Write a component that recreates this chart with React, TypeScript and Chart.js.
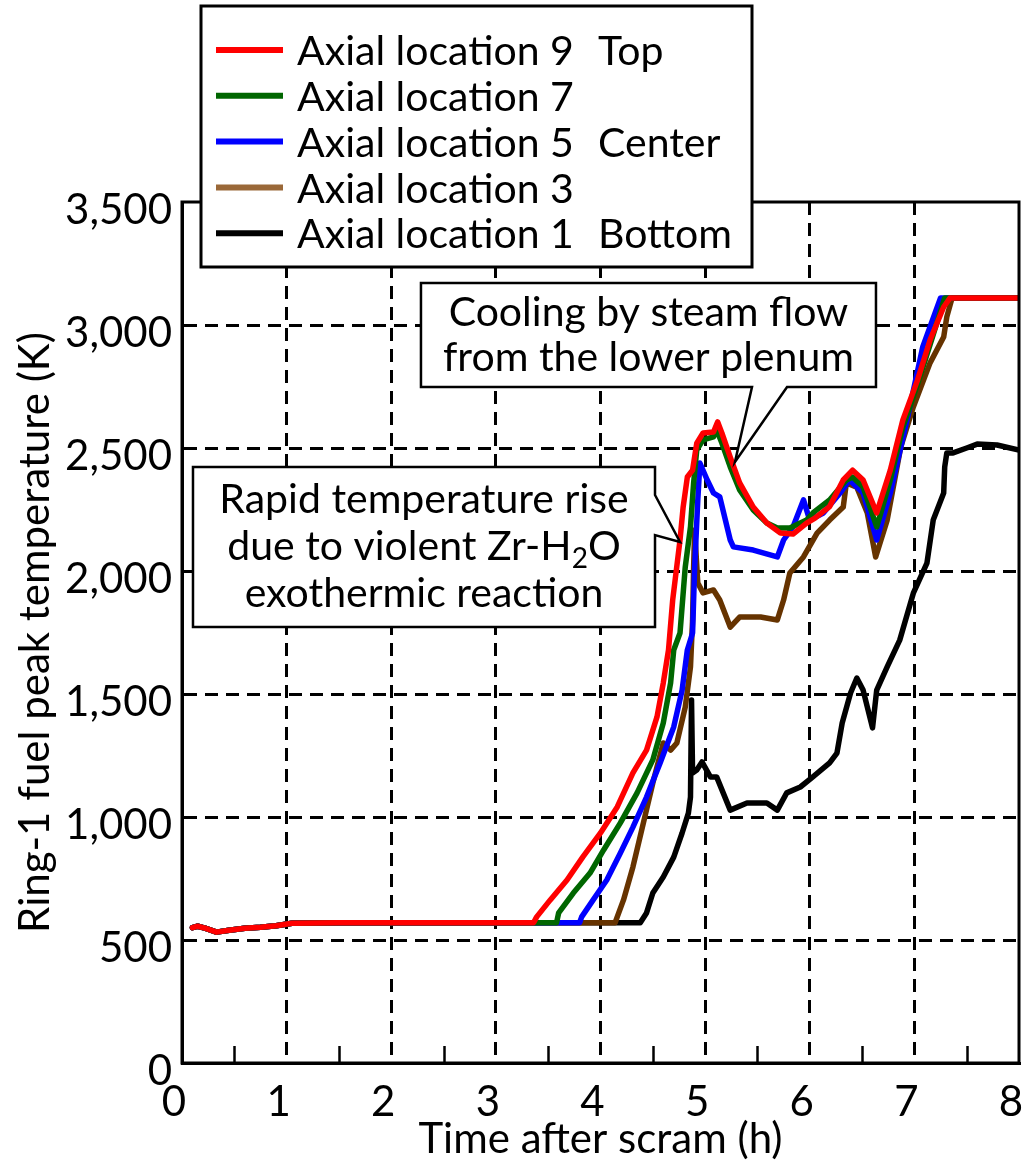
import React, { useEffect, useRef } from 'react';
import { Chart, registerables } from 'chart.js';

Chart.register(...registerables);

const FONT = 'Lato, "Open Sans", sans-serif';

// ---------- data (time after scram in h, temperature in K) ----------
const loc9T = [0.1, 0.15, 0.22, 0.33, 0.45, 0.6, 0.75, 0.9, 1.05, 1.5, 2.0, 2.5, 3.0, 3.36, 3.39, 3.52, 3.68, 3.83, 4.0, 4.16, 4.31, 4.44, 4.54, 4.6, 4.65, 4.69, 4.76, 4.79, 4.83, 4.88, 4.92, 4.98, 5.08, 5.12, 5.16, 5.24, 5.33, 5.46, 5.59, 5.72, 5.84, 5.97, 6.05, 6.19, 6.32, 6.41, 6.51, 6.64, 6.77, 6.89, 7.03, 7.15, 7.28, 7.34, 8.0];
const loc9K = [550, 556, 548, 532, 540, 548, 552, 558, 568, 570, 570, 570, 570, 570, 594, 663, 744, 837, 935, 1041, 1179, 1272, 1407, 1545, 1679, 1882, 2126, 2260, 2382, 2410, 2520, 2561, 2565, 2606, 2561, 2463, 2358, 2260, 2195, 2154, 2150, 2195, 2215, 2262, 2370, 2410, 2370, 2236, 2410, 2614, 2776, 2939, 3073, 3110, 3110];

const loc7T = [0.1, 0.15, 0.22, 0.33, 0.45, 0.6, 0.75, 0.9, 1.05, 1.5, 2.0, 2.5, 3.0, 3.58, 3.6, 3.74, 3.9, 4.03, 4.19, 4.35, 4.5, 4.6, 4.67, 4.7, 4.76, 4.81, 4.86, 4.89, 4.92, 4.98, 5.08, 5.11, 5.16, 5.24, 5.33, 5.46, 5.59, 5.69, 5.81, 5.97, 6.03, 6.19, 6.35, 6.41, 6.51, 6.64, 6.77, 6.89, 7.03, 7.15, 7.29, 8.0];
const loc7K = [550, 556, 548, 532, 540, 548, 552, 558, 568, 570, 570, 570, 570, 570, 610, 691, 772, 866, 976, 1098, 1232, 1382, 1545, 1679, 1748, 2016, 2179, 2358, 2492, 2533, 2545, 2573, 2520, 2423, 2329, 2248, 2195, 2175, 2175, 2207, 2236, 2289, 2370, 2382, 2341, 2179, 2370, 2585, 2760, 2920, 3110, 3110];

const loc5T = [0.1, 0.15, 0.22, 0.33, 0.45, 0.6, 0.75, 0.9, 1.05, 1.5, 2.0, 2.5, 3.0, 3.8, 3.82, 3.93, 4.06, 4.19, 4.31, 4.44, 4.57, 4.7, 4.78, 4.83, 4.88, 4.9, 4.93, 4.95, 5.02, 5.08, 5.14, 5.24, 5.27, 5.46, 5.69, 5.75, 5.84, 5.94, 6.0, 6.13, 6.29, 6.38, 6.51, 6.64, 6.77, 6.93, 7.08, 7.25, 8.0];
const loc5K = [550, 556, 548, 532, 540, 548, 552, 558, 568, 570, 570, 570, 570, 570, 594, 663, 744, 854, 959, 1081, 1220, 1366, 1516, 1679, 1748, 2016, 2289, 2439, 2370, 2317, 2301, 2126, 2098, 2085, 2057, 2126, 2179, 2289, 2207, 2236, 2317, 2370, 2317, 2126, 2317, 2614, 2911, 3110, 3110];

const loc3T = [0.1, 0.15, 0.22, 0.33, 0.45, 0.6, 0.75, 0.9, 1.05, 1.5, 2.0, 2.5, 3.0, 4.14, 4.16, 4.22, 4.31, 4.41, 4.5, 4.6, 4.67, 4.73, 4.81, 4.86, 4.88, 4.89, 4.9, 4.93, 4.98, 5.08, 5.14, 5.24, 5.33, 5.53, 5.69, 5.75, 5.81, 5.94, 6.07, 6.19, 6.32, 6.35, 6.45, 6.55, 6.63, 6.74, 6.87, 6.99, 7.15, 7.28, 7.31, 7.36, 8.0];
const loc3K = [550, 556, 548, 532, 540, 548, 552, 558, 568, 570, 570, 570, 570, 570, 594, 663, 797, 976, 1138, 1301, 1272, 1301, 1447, 1610, 1800, 2016, 2167, 1951, 1911, 1923, 1882, 1772, 1813, 1813, 1801, 1882, 1992, 2057, 2154, 2207, 2260, 2358, 2341, 2236, 2057, 2207, 2504, 2667, 2846, 2951, 3033, 3110, 3110];

const loc1T = [0.1, 0.15, 0.22, 0.33, 0.45, 0.6, 0.75, 0.9, 1.05, 1.5, 2.0, 2.5, 3.0, 4.38, 4.44, 4.5, 4.6, 4.7, 4.78, 4.84, 4.86, 4.87, 4.88, 4.92, 4.97, 5.05, 5.11, 5.24, 5.4, 5.59, 5.69, 5.78, 5.91, 6.03, 6.19, 6.26, 6.31, 6.39, 6.45, 6.51, 6.6, 6.64, 6.74, 6.86, 6.99, 7.12, 7.18, 7.28, 7.29, 7.31, 7.37, 7.5, 7.6, 7.79, 8.0];
const loc1K = [550, 556, 548, 532, 540, 548, 552, 558, 568, 570, 570, 570, 570, 570, 610, 691, 756, 837, 935, 1016, 1081, 1476, 1179, 1191, 1224, 1163, 1163, 1028, 1057, 1057, 1028, 1098, 1122, 1163, 1220, 1260, 1382, 1504, 1565, 1516, 1362, 1516, 1610, 1719, 1910, 2032, 2207, 2317, 2423, 2480, 2480, 2500, 2516, 2512, 2492];

const seriesNames = ['Axial location 9', 'Axial location 7', 'Axial location 5', 'Axial location 3', 'Axial location 1'];
const seriesPositions = ['Top', '', 'Center', '', 'Bottom'];
const seriesColors = ['#ff0000', '#006600', '#0000ff', '#663300', '#000000'];
const legendColors = ['#ff0000', '#006600', '#0000ff', '#9a6838', '#000000'];
const seriesT = [loc9T, loc7T, loc5T, loc3T, loc1T];
const seriesK = [loc9K, loc7K, loc5K, loc3K, loc1K];

const xMin = 0;
const xMax = 8;
const xLabelTicks = [0, 1, 2, 3, 4, 5, 6, 7, 8];
const xMinorTicks = [0.5, 1.5, 2.5, 3.5, 4.5, 5.5, 6.5, 7.5];
const yMin = 0;
const yMax = 3500;
const yStep = 500;

const xTitle = 'Time after scram (h)';
const yTitle = 'Ring-1 fuel peak temperature (K)';

// callouts in data coordinates
const callout1Lines = ['Cooling by steam flow', 'from the lower plenum'];
const callout1Box = { x0: 2.284, x1: 6.633, y0: 3171, y1: 2748 };
const callout1Notch = { a: 5.448, b: 5.783 };
const callout1Tip = { x: 5.285, y: 2443 };

const callout2Lines = ['Rapid temperature rise', 'due to violent Zr-H|2|O', 'exothermic reaction'];
const callout2Box = { x0: 0.105, x1: 4.521, y0: 2423, y1: 1772 };
const callout2Notch = { a: 2309, b: 2146 };
const callout2Tip = { x: 4.76, y: 2118 };

function drawRichLine(ctx: CanvasRenderingContext2D, text: string, cx: number, cy: number, size: number) {
  const parts = text.split('|');
  const fonts = parts.map((_, i) => (i % 2 === 1 ? `${Math.round(size * 0.68)}px ${FONT}` : `${size}px ${FONT}`));
  let total = 0;
  const widths = parts.map((p, i) => {
    ctx.font = fonts[i];
    const w = ctx.measureText(p).width;
    total += w;
    return w;
  });
  let x = cx - total / 2;
  parts.forEach((p, i) => {
    ctx.font = fonts[i];
    ctx.fillText(p, x, cy + (i % 2 === 1 ? size * 0.3 : 0));
    x += widths[i];
  });
}

const framePlugin = {
  id: 'frameAndMarks',
  afterDatasetsDraw(chart: any) {
    const { ctx, chartArea, scales } = chart;
    ctx.save();
    // minor x tick marks pointing inward
    ctx.strokeStyle = '#000';
    ctx.lineWidth = 2.5;
    xMinorTicks.forEach((v) => {
      const px = Math.round(scales.x.getPixelForValue(v)) + 0.5;
      ctx.beginPath();
      ctx.moveTo(px, chartArea.bottom);
      ctx.lineTo(px, chartArea.bottom - 17);
      ctx.stroke();
    });
    ctx.lineWidth = 3;
    ctx.strokeRect(chartArea.left, chartArea.top, chartArea.right - chartArea.left, chartArea.bottom - chartArea.top);
    ctx.restore();
  },
  afterDraw(chart: any) {
    const { ctx, scales } = chart;
    const X = (v: number) => scales.x.getPixelForValue(v);
    const Y = (v: number) => scales.y.getPixelForValue(v);
    ctx.save();
    ctx.lineJoin = 'miter';
    // callout 1 (pointer on bottom edge)
    {
      const l = X(callout1Box.x0), r = X(callout1Box.x1), t = Y(callout1Box.y0), b = Y(callout1Box.y1);
      ctx.beginPath();
      ctx.moveTo(l, t);
      ctx.lineTo(r, t);
      ctx.lineTo(r, b);
      ctx.lineTo(X(callout1Notch.b), b);
      ctx.lineTo(X(callout1Tip.x), Y(callout1Tip.y));
      ctx.lineTo(X(callout1Notch.a), b);
      ctx.lineTo(l, b);
      ctx.closePath();
      ctx.fillStyle = '#fff';
      ctx.fill();
      ctx.lineWidth = 2.5;
      ctx.strokeStyle = '#000';
      ctx.stroke();
      ctx.fillStyle = '#000';
      ctx.textBaseline = 'middle';
      ctx.textAlign = 'left';
      const cx = (l + r) / 2, cy = (t + b) / 2;
      callout1Lines.forEach((s, i) => drawRichLine(ctx, s, cx, cy + (i - 0.5) * 45, 41));
    }
    // callout 2 (pointer on right edge)
    {
      const l = X(callout2Box.x0), r = X(callout2Box.x1), t = Y(callout2Box.y0), b = Y(callout2Box.y1);
      ctx.beginPath();
      ctx.moveTo(l, t);
      ctx.lineTo(r, t);
      ctx.lineTo(r, Y(callout2Notch.a));
      ctx.lineTo(X(callout2Tip.x), Y(callout2Tip.y));
      ctx.lineTo(r, Y(callout2Notch.b));
      ctx.lineTo(r, b);
      ctx.lineTo(l, b);
      ctx.closePath();
      ctx.fillStyle = '#fff';
      ctx.fill();
      ctx.lineWidth = 2.5;
      ctx.strokeStyle = '#000';
      ctx.stroke();
      ctx.fillStyle = '#000';
      ctx.textBaseline = 'middle';
      ctx.textAlign = 'left';
      const cx = (l + r) / 2, cy = (t + b) / 2;
      callout2Lines.forEach((s, i) => drawRichLine(ctx, s, cx, cy + (i - 1) * 47, 41));
    }
    // legend box
    {
      const left = 201, top = 6, w = 551, h = 261;
      ctx.fillStyle = '#fff';
      ctx.fillRect(left, top, w, h);
      ctx.lineWidth = 3;
      ctx.strokeStyle = '#000';
      ctx.strokeRect(left, top, w, h);
      ctx.textBaseline = 'middle';
      ctx.textAlign = 'left';
      ctx.font = `41px ${FONT}`;
      seriesNames.forEach((name, i) => {
        const y = 50 + i * 45.8;
        ctx.strokeStyle = legendColors[i];
        ctx.lineWidth = 6;
        ctx.beginPath();
        ctx.moveTo(216, y);
        ctx.lineTo(283, y);
        ctx.stroke();
        ctx.fillStyle = '#000';
        ctx.fillText(name, 297, y + 2);
        if (seriesPositions[i]) ctx.fillText(seriesPositions[i], 598, y + 2);
      });
    }
    ctx.restore();
  },
};

export default function App() {
  const ref = useRef<HTMLCanvasElement | null>(null);
  useEffect(() => {
    if (!ref.current) return;
    const datasets = seriesNames.map((name, i) => ({
      label: seriesPositions[i] ? `${name}  ${seriesPositions[i]}` : name,
      data: seriesT[i].map((t, j) => ({ x: t, y: seriesK[i][j] })),
      borderColor: seriesColors[i],
      backgroundColor: seriesColors[i],
      borderWidth: 5.5,
      pointRadius: 0,
      tension: 0,
      fill: false,
      borderJoinStyle: 'round' as const,
      borderCapStyle: 'round' as const,
    }));
    const chart = new Chart(ref.current, {
      type: 'line',
      data: { datasets },
      plugins: [framePlugin],
      options: {
        animation: false,
        responsive: false,
        devicePixelRatio: 1,
        layout: { padding: { top: 202, right: 4, left: 0, bottom: 0 } },
        plugins: { legend: { display: false }, tooltip: { enabled: false } },
        scales: {
          x: {
            type: 'linear',
            min: xMin,
            max: xMax,
            afterFit: (s: any) => {
              s.height = 103;
              s.paddingLeft = 0;
              s.paddingRight = 0;
            },
            afterBuildTicks: (s: any) => {
              s.ticks = [...xLabelTicks, ...xMinorTicks].sort((a, b) => a - b).map((v) => ({ value: v }));
            },
            ticks: {
              autoSkip: false,
              maxRotation: 0,
              color: '#000',
              font: { family: FONT, size: 42 },
              padding: 14,
              labelOffset: -8,
              callback: (v: any) => (xLabelTicks.includes(Number(v)) ? String(v) : ''),
            },
            grid: {
              color: (c: any) => {
                const v = c.tick ? c.tick.value : -1;
                return Number.isInteger(v) && v > xMin && v < xMax ? '#000' : 'rgba(0,0,0,0)';
              },
              lineWidth: 3,
              drawTicks: false,
            },
            border: { display: true, color: '#000', width: 3, dash: [13, 8] },
            title: {
              display: true,
              text: xTitle,
              color: '#000',
              font: { family: FONT, size: 42 },
              padding: { top: 0, bottom: 1 },
            },
          },
          y: {
            type: 'linear',
            min: yMin,
            max: yMax,
            afterFit: (s: any) => {
              s.width = 182;
              s.paddingTop = 0;
              s.paddingBottom = 0;
            },
            ticks: {
              stepSize: yStep,
              color: '#000',
              font: { family: FONT, size: 42 },
              padding: 10,
              labelOffset: 8,
              callback: (v: any) => Number(v).toLocaleString('en-US'),
            },
            grid: {
              color: (c: any) => {
                const v = c.tick ? c.tick.value : -1;
                return v > yMin && v < yMax ? '#000' : 'rgba(0,0,0,0)';
              },
              lineWidth: 3,
              drawTicks: false,
            },
            border: { display: true, color: '#000', width: 3, dash: [13, 8] },
            title: {
              display: true,
              text: yTitle,
              color: '#000',
              font: { family: FONT, size: 42 },
              padding: { top: 10, bottom: 0 },
            },
          },
        },
      },
    });
    return () => chart.destroy();
  }, []);
  return (
    <div style={{ position: 'absolute', left: 0, top: 0, width: 1023, height: 1166, background: '#fff' }}>
      <canvas ref={ref} width={1023} height={1166} style={{ display: 'block' }} />
    </div>
  );
}
